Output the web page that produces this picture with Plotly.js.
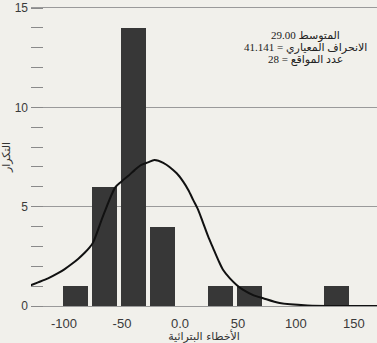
<!DOCTYPE html>
<html>
<head>
<meta charset="utf-8">
<script src="https://cdn.plot.ly/plotly-3.0.1.min.js"></script>
<style>
  html, body { margin: 0; padding: 0; background: #f1f0eb; }
  #chart { width: 377px; height: 343px; }
</style>
</head>
<body>
<div id="chart"></div>
<script>
// Histogram of residuals (bin centres and counts)
const binCenters = [-90, -65, -40, -15, 10, 35, 60, 85, 110, 135];
const counts     = [1, 6, 14, 4, 0, 1, 1, 0, 0, 1];

// Fitted curve
const curveX = [-130, -122.4, -113.8, -105.2, -99.4, -93.7, -87.9, -82.2, -77.9, -75, -65.5, -55.8, -50.6, -44.8, -39.1, -33.3, -27.6, -22, -14.4, -2.8, 2.8, 7.2, 11.5, 15.8, 20.1, 24.4, 28.7, 33, 37.3, 43.1, 48.9, 54.6, 63.2, 71.8, 86, 110, 140, 172];
const curveY = [1.02, 1.19, 1.39, 1.65, 1.86, 2.10, 2.37, 2.68, 2.95, 3.19, 4.66, 5.97, 6.26, 6.54, 6.84, 7.10, 7.23, 7.35, 7.21, 6.68, 6.26, 5.84, 5.33, 4.83, 4.16, 3.49, 2.90, 2.32, 1.81, 1.39, 1.06, 0.81, 0.55, 0.39, 0.15, 0.03, 0.0, 0.0];

const xTickVals = [-100, -50, 0, 50, 100, 150];
const xTickText = ['-100', '-50', '0.0', '50', '100', '150'];
const yTickVals = [0, 5, 10, 15];

const statLines = ['المتوسط 29.00', 'الانحراف المعياري = 41.141', 'عدد المواقع = 28'];
const xTitle = 'الأخطاء البترائية';
const yTitle = 'التكرار';

const bg = '#f1f0eb';
const tickFont = {family: 'Liberation Sans Narrow, Liberation Sans, Arial, sans-serif', size: 13, color: '#3a3a3a'};

const traces = [
  {
    type: 'bar',
    x: binCenters,
    y: counts,
    width: 21.5,
    marker: {color: '#373737', line: {width: 0}},
    hoverinfo: 'skip'
  },
  {
    type: 'scatter',
    mode: 'lines',
    x: curveX,
    y: curveY,
    line: {color: '#111111', width: 2, shape: 'spline', smoothing: 0.8},
    hoverinfo: 'skip'
  }
];

// vertical placement of the three statistic lines (data units)
const statY = [13.6, 13.03, 12.43];
const annotations = statLines.map((t, i) => ({
  text: t,
  xref: 'paper', yref: 'y',
  x: 0.792, y: statY[i],
  xanchor: 'center', yanchor: 'middle',
  showarrow: false,
  font: {family: 'Liberation Serif, DejaVu Sans, serif', size: 11, color: '#222'}
}));

const layout = {
  width: 377,
  height: 343,
  margin: {l: 31, r: 0, t: 8, b: 37},
  paper_bgcolor: bg,
  plot_bgcolor: bg,
  showlegend: false,
  bargap: 0,
  xaxis: {
    range: [-128.5, 170],
    tickmode: 'array',
    tickvals: xTickVals,
    ticktext: xTickText,
    ticks: '',
    showgrid: false,
    zeroline: false,
    showline: true,
    mirror: true,
    linecolor: '#9a9a9a',
    linewidth: 1,
    ticklabelstandoff: 5,
    tickfont: tickFont,
    title: {text: xTitle, standoff: 0, font: {family: 'DejaVu Sans, sans-serif', size: 11, color: '#333'}}
  },
  yaxis: {
    range: [0, 15],
    tickmode: 'array',
    tickvals: yTickVals,
    ticks: '',
    showgrid: true,
    gridcolor: '#9a9a9a',
    gridwidth: 1,
    zeroline: false,
    showline: false,
    tickfont: {family: tickFont.family, size: 12, color: '#3a3a3a'},
    ticklabelstandoff: 2,
    minor: {dtick: 1, ticks: 'inside', ticklen: 12, tickcolor: '#8a8a8a', tickwidth: 1, showgrid: false},
    title: {text: yTitle, standoff: 4, font: {family: 'DejaVu Sans, sans-serif', size: 11, color: '#333'}}
  },
  annotations: annotations
};

Plotly.newPlot('chart', traces, layout, {staticPlot: true, displayModeBar: false});
</script>
</body>
</html>
